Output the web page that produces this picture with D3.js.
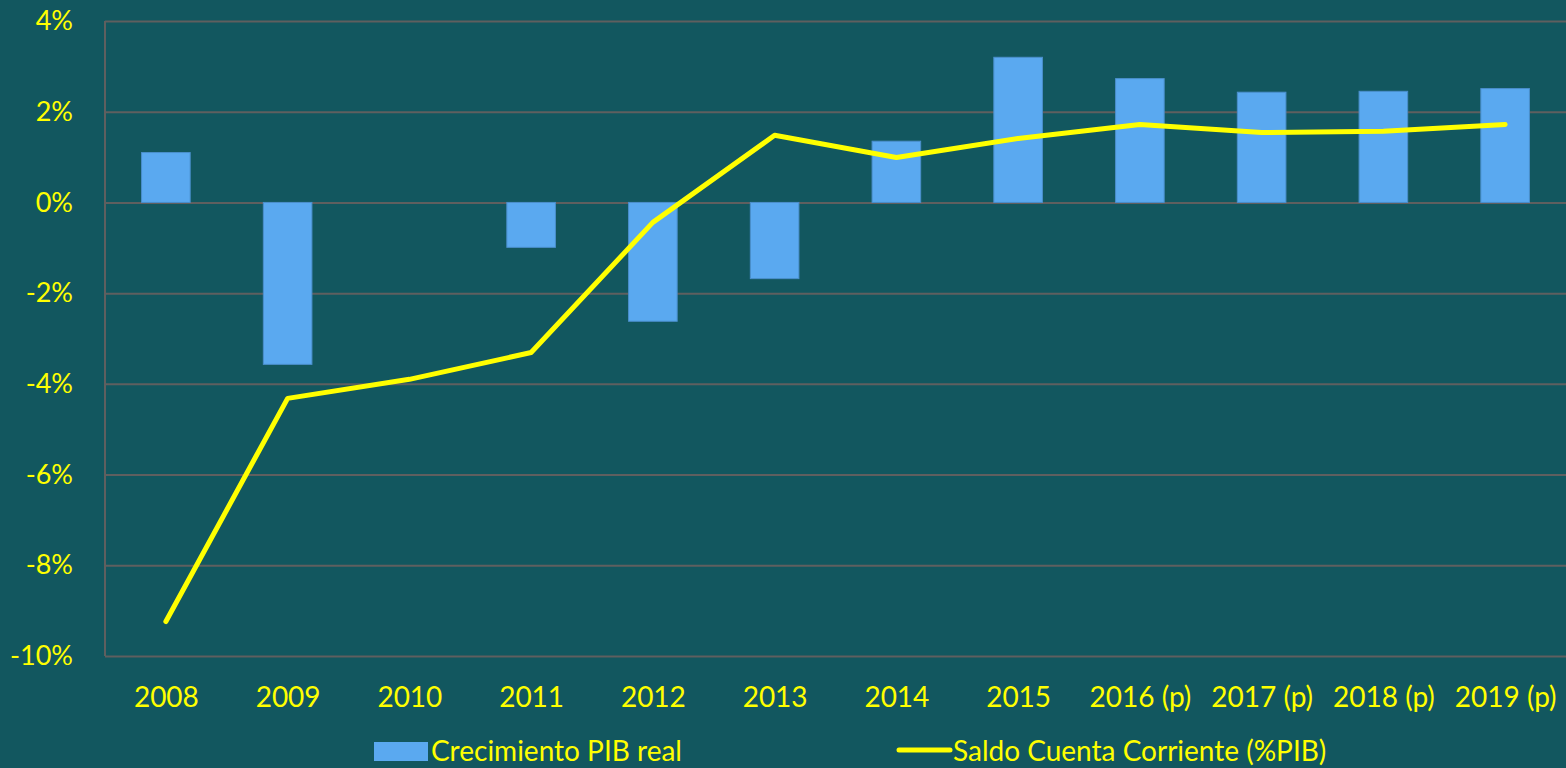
<!DOCTYPE html>
<html><head><meta charset="utf-8">
<script src="https://cdn.jsdelivr.net/npm/d3@7"></script>
<style>body{margin:0;background:#12575f;}svg{display:block;}</style>
</head><body>
<svg id="c" width="1566" height="768"></svg>
<script>
const categories = ["2008","2009","2010","2011","2012","2013","2014","2015","2016 (p)","2017 (p)","2018 (p)","2019 (p)"];
const pibValues = [1.10,-3.57,0,-0.99,-2.62,-1.68,1.35,3.20,2.73,2.43,2.45,2.51];
const saldoValues = [-9.24,-4.32,-3.90,-3.31,-0.44,1.48,0.99,1.41,1.72,1.54,1.57,1.72];
const yTicks = [4,2,0,-2,-4,-6,-8,-10];
const seriesNames = ["Crecimiento PIB real","Saldo Cuenta Corriente (%PIB)"];

const svg = d3.select("#c");
const W=1566,H=768;
svg.append("rect").attr("width",W).attr("height",H).attr("fill","#12575f");
const L=105,R=1566,T=21,B=656;
const font="Lato, 'Open Sans', sans-serif";
const xc=d3.scalePoint().domain(categories).range([L,R]).padding(0.5);
const y=d3.scaleLinear().domain([-10,4]).range([B,T]);

// grid
const yAxis=d3.axisLeft(y).tickValues(yTicks).tickSize(-(R-L)).tickFormat(d=>d+"%");
const gy=svg.append("g").attr("transform",`translate(${L},0)`).call(yAxis);
gy.select(".domain").remove();
gy.selectAll(".tick line").attr("stroke","#5f5f5f").attr("stroke-width",2);
gy.selectAll(".tick text").attr("x",-32).attr("fill","#ffff00").attr("font-family",font).attr("font-size",27);
svg.append("line").attr("x1",L).attr("x2",L).attr("y1",T).attr("y2",B).attr("stroke","#5f5f5f").attr("stroke-width",2);

// bars
const bw=48.6;
svg.append("g").selectAll("rect").data(pibValues).join("rect")
  .attr("x",(d,i)=>xc(categories[i])-bw/2).attr("width",bw)
  .attr("y",d=>y(Math.max(0,d))).attr("height",d=>Math.abs(y(d)-y(0)))
  .attr("fill","#5aa9f0").attr("stroke","#4b8fcc").attr("stroke-width",1);

// line
const line=d3.line().x((d,i)=>xc(categories[i])).y(d=>y(d));
svg.append("path").datum(saldoValues).attr("d",line).attr("fill","none")
  .attr("stroke","#ffff00").attr("stroke-width",5).attr("stroke-linecap","round").attr("stroke-linejoin","round");

// x labels
const xAxis=d3.axisBottom(xc).tickSize(0).tickPadding(0);
const gx=svg.append("g").attr("transform",`translate(0,${B})`).call(xAxis);
gx.select(".domain").remove();
gx.selectAll(".tick text").attr("y",51).attr("dy",0).attr("fill","#ffff00").attr("font-family",font).attr("font-size",28);

// legend
const lg=svg.append("g");
lg.append("rect").attr("x",374).attr("y",742).attr("width",54).attr("height",19).attr("fill","#5aa9f0");
lg.append("text").attr("x",431).attr("y",761).text(seriesNames[0]).attr("fill","#ffff00").attr("font-family",font).attr("font-size",28);
lg.append("line").attr("x1",899).attr("x2",950).attr("y1",750).attr("y2",750).attr("stroke","#ffff00").attr("stroke-width",5).attr("stroke-linecap","round");
lg.append("text").attr("x",953).attr("y",761).text(seriesNames[1]).attr("fill","#ffff00").attr("font-family",font).attr("font-size",28);
</script>
</body></html>
